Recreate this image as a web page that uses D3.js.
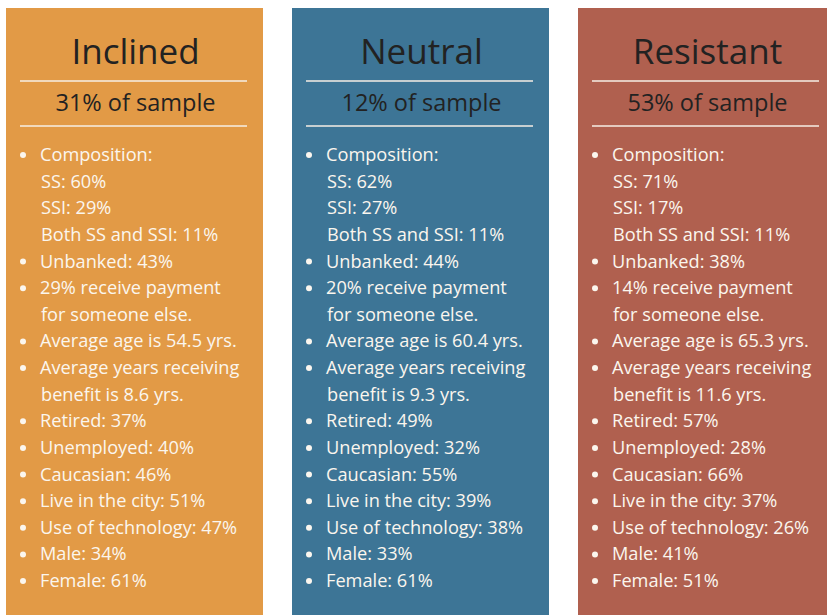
<!DOCTYPE html>
<html>
<head>
<meta charset="utf-8">
<script src="https://d3js.org/d3.v7.min.js"></script>
<style>
  body { margin: 0; background: #fff; }
  svg { display: block; font-family: "Open Sans", "Noto Sans", sans-serif; }
</style>
</head>
<body>
<div class="chart"></div>
<script>
// segment data, one value per group
var groups = ["Inclined", "Neutral", "Resistant"];
var colors = ["#e29a46", "#3d7596", "#b0604f"];
var sampleShare = [31, 12, 53];
var ssShare = [60, 62, 71];
var ssiShare = [29, 27, 17];
var bothShare = [11, 11, 11];
var unbanked = [43, 44, 38];
var payForOther = [29, 20, 14];
var avgAge = ["54.5", "60.4", "65.3"];
var avgYears = ["8.6", "9.3", "11.6"];
var retired = [37, 49, 57];
var unemployed = [40, 32, 28];
var caucasian = [46, 55, 66];
var liveCity = [51, 39, 37];
var useTech = [47, 38, 26];
var male = [34, 33, 41];
var female = [61, 61, 51];

var svgWidth = 827, svgHeight = 615;

var svg = d3.select(".chart").append("svg")
    .attr("width", svgWidth)
    .attr("height", svgHeight);

var x = d3.scaleBand().domain(groups).range([6, 835]).paddingInner(29 / 286);
var row = d3.scaleLinear().domain([0, 16]).range([161, 587]);

// build the text lines for each panel: [text, bullet?]
function linesFor(i) {
  return [
    ["Composition:", true],
    ["SS: " + ssShare[i] + "%", false],
    ["SSI: " + ssiShare[i] + "%", false],
    ["Both SS and SSI: " + bothShare[i] + "%", false],
    ["Unbanked: " + unbanked[i] + "%", true],
    [payForOther[i] + "% receive payment", true],
    ["for someone else.", false],
    ["Average age is " + avgAge[i] + " yrs.", true],
    ["Average years receiving", true],
    ["benefit is " + avgYears[i] + " yrs.", false],
    ["Retired: " + retired[i] + "%", true],
    ["Unemployed: " + unemployed[i] + "%", true],
    ["Caucasian: " + caucasian[i] + "%", true],
    ["Live in the city: " + liveCity[i] + "%", true],
    ["Use of technology: " + useTech[i] + "%", true],
    ["Male: " + male[i] + "%", true],
    ["Female: " + female[i] + "%", true]
  ];
}

var panel = svg.selectAll("g.panel")
    .data(groups)
    .enter()
    .append("g")
    .attr("class", "panel")
    .attr("transform", function(d) { return "translate(" + x(d) + ",0)"; });

panel.append("rect")
    .attr("y", 8)
    .attr("width", x.bandwidth())
    .attr("height", svgHeight - 8)
    .attr("fill", function(d, i) { return colors[i]; });

panel.append("text")
    .attr("x", x.bandwidth() / 2 + 1)
    .attr("y", 64)
    .attr("text-anchor", "middle")
    .style("font-size", "35px")
    .style("fill", "#222")
    .text(function(d) { return d; });

panel.append("text")
    .attr("x", x.bandwidth() / 2 + 1)
    .attr("y", 111)
    .attr("text-anchor", "middle")
    .style("font-size", "23.5px")
    .style("fill", "#222")
    .text(function(d, i) { return sampleShare[i] + "% of sample"; });

[81, 126].forEach(function(y) {
  panel.append("line")
      .attr("x1", 14).attr("x2", 241)
      .attr("y1", y).attr("y2", y)
      .attr("stroke", "#f6eee4")
      .attr("stroke-width", 1.5);
});

panel.each(function(d, i) {
  var g = d3.select(this);
  var lines = linesFor(i);
  g.selectAll("text.item")
      .data(lines)
      .enter()
      .append("text")
      .attr("class", "item")
      .attr("x", function(l) { return l[1] ? 34 : 35; })
      .attr("y", function(l, k) { return row(k); })
      .style("font-size", "18.2px")
      .style("fill", "#fbf6ee")
      .text(function(l) { return l[0]; });
  g.selectAll("circle.dot")
      .data(lines.map(function(l, k) { return [l, k]; }).filter(function(p) { return p[0][1]; }))
      .enter()
      .append("circle")
      .attr("class", "dot")
      .attr("cx", 17)
      .attr("cy", function(p) { return row(p[1]) - 6; })
      .attr("r", 3)
      .attr("fill", "#fbf6ee");
});
</script>
</body>
</html>
